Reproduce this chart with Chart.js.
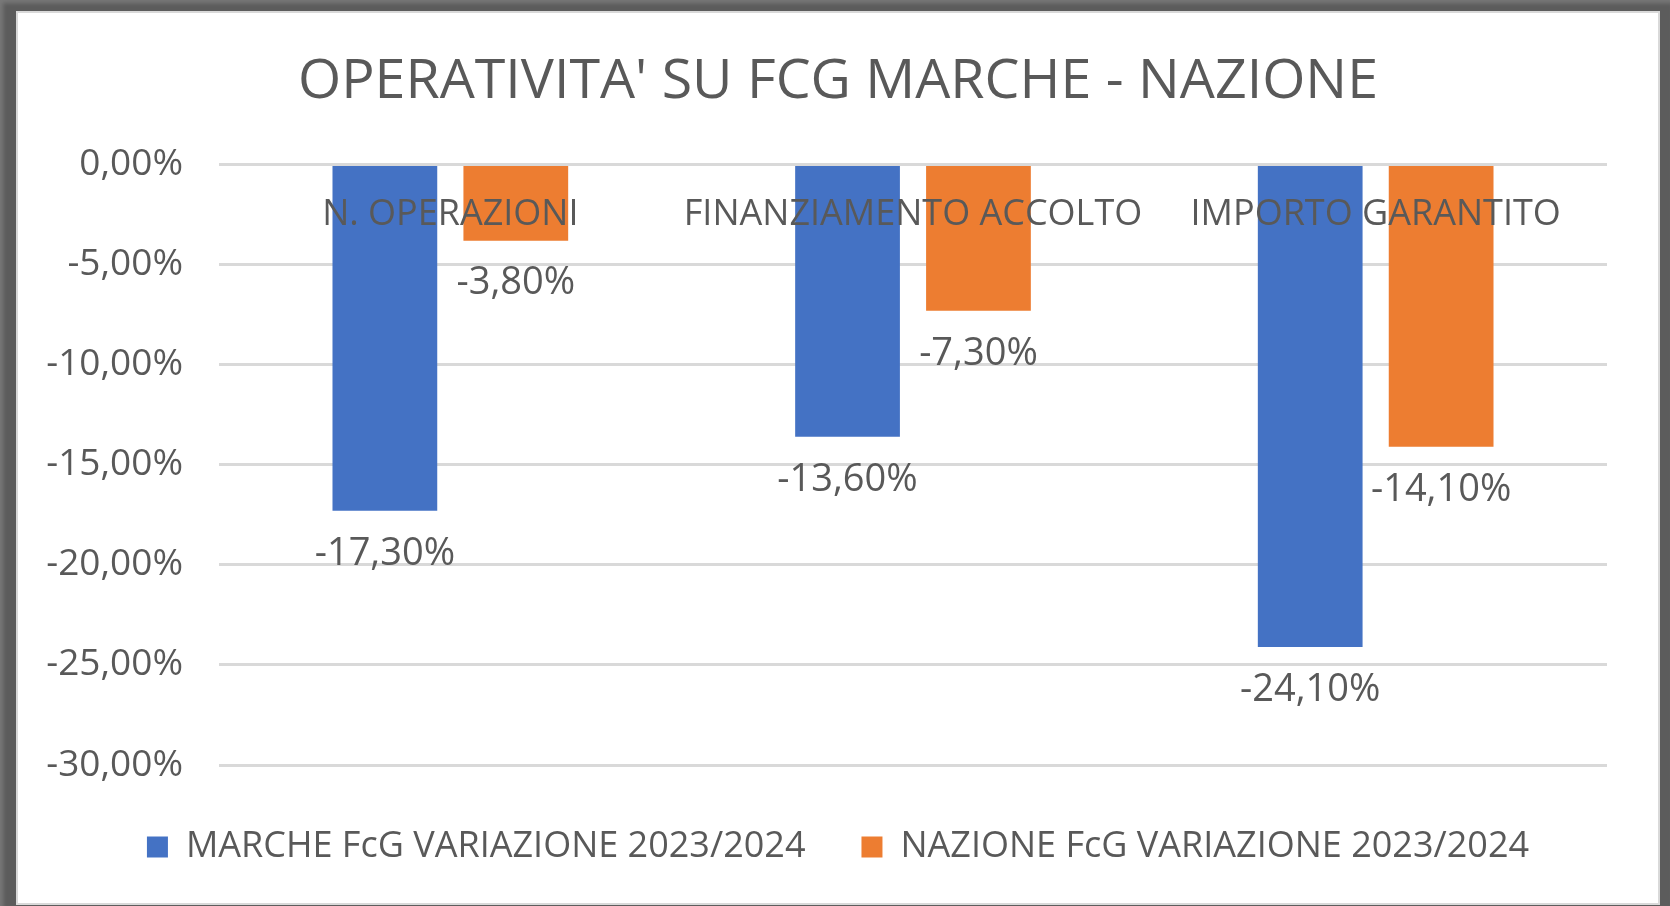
<!DOCTYPE html>
<html>
<head>
<meta charset="utf-8">
<script src="https://cdn.jsdelivr.net/npm/chart.js@4.4.1/dist/chart.umd.min.js"></script>
<style>
  html, body { margin: 0; padding: 0; width: 1670px; height: 906px; overflow: hidden; background: #5c5c5c; }
  #frame { position: absolute; left: 16px; top: 11px; width: 1644px; height: 894px; box-sizing: border-box;
           border: 2px solid #d9d9d9; background: #ffffff; }
  #wrap { position: absolute; left: 0; top: 0; width: 1640px; height: 890px; }
  #shade { position: absolute; left: 0; top: 0; width: 1670px; height: 906px;
           box-shadow: inset 3px 3px 4px rgba(255,255,255,0.18); pointer-events: none; }
</style>
</head>
<body>
<div id="shade"></div>
<div id="frame"><div id="wrap"><canvas id="c"></canvas></div></div>
<script>
const categories = ["N. OPERAZIONI", "FINANZIAMENTO ACCOLTO", "IMPORTO GARANTITO"];
const seriesNames = ["MARCHE FcG VARIAZIONE 2023/2024", "NAZIONE FcG VARIAZIONE 2023/2024"];
const marcheValues = [-17.3, -13.6, -24.1];
const nazioneValues = [-3.8, -7.3, -14.1];
const yMin = -30, yMax = 0, yStep = 5;
const titleText = "OPERATIVITA' SU FCG MARCHE - NAZIONE";

const TEXT = '#595959';
const fmt = v => v.toFixed(2).replace('.', ',') + '%';

Chart.defaults.font.family = "'Open Sans', sans-serif";
Chart.defaults.color = TEXT;

const dataLabels = {
  id: 'dataLabels',
  afterDatasetsDraw(chart) {
    const ctx = chart.ctx;
    ctx.save();
    ctx.font = "38px 'Open Sans', sans-serif";
    ctx.fillStyle = TEXT;
    ctx.textAlign = 'center';
    ctx.textBaseline = 'middle';
    chart.data.datasets.forEach((ds, i) => {
      const meta = chart.getDatasetMeta(i);
      meta.data.forEach((bar, j) => {
        ctx.fillText(fmt(ds.data[j]), bar.x, bar.y + 43);
      });
    });
    ctx.restore();
  }
};

new Chart(document.getElementById('c'), {
  type: 'bar',
  data: {
    labels: categories,
    datasets: [
      { label: seriesNames[0], data: marcheValues, backgroundColor: '#4472C4', borderWidth: 0,
        categoryPercentage: 0.566, barPercentage: 0.8 },
      { label: seriesNames[1], data: nazioneValues, backgroundColor: '#ED7D31', borderWidth: 0,
        categoryPercentage: 0.566, barPercentage: 0.8 }
    ]
  },
  options: {
    responsive: true,
    maintainAspectRatio: false,
    animation: false,
    layout: { padding: { left: 0, right: 0, top: 0, bottom: 28 } },
    plugins: {
      title: {
        display: true, text: titleText, color: TEXT,
        font: { size: 55.5, weight: 'normal', lineHeight: 1.2 },
        padding: { top: 36, bottom: 49 }
      },
      legend: {
        position: 'bottom',
        title: { display: true, text: ' ', font: { size: 1, lineHeight: 1 }, padding: { top: 0, bottom: 7 } },
        labels: {
          boxWidth: 21, boxHeight: 21, padding: 56, color: TEXT,
          font: { size: 36 }
        }
      },
      tooltip: { enabled: false }
    },
    scales: {
      x: {
        position: { y: 0 },
        grid: { display: false, drawTicks: false },
        border: { display: false },
        ticks: { z: 1, padding: 29, maxRotation: 0, minRotation: 0, autoSkip: false, color: TEXT, font: { size: 36 } }
      },
      y: {
        position: 'left',
        min: yMin, max: yMax,
        grid: { color: '#D9D9D9', lineWidth: 3, drawTicks: false },
        border: { display: false },
        ticks: { stepSize: yStep, padding: 36, color: TEXT, font: { size: 37 }, callback: v => fmt(v) },
        afterFit(scale) { scale.width = 201; }
      },
      y2: {
        position: 'right',
        grid: { display: false, drawTicks: false },
        border: { display: false },
        ticks: { display: false },
        afterFit(scale) { scale.width = 51; }
      }
    }
  },
  plugins: [dataLabels]
});
</script>
</body>
</html>
